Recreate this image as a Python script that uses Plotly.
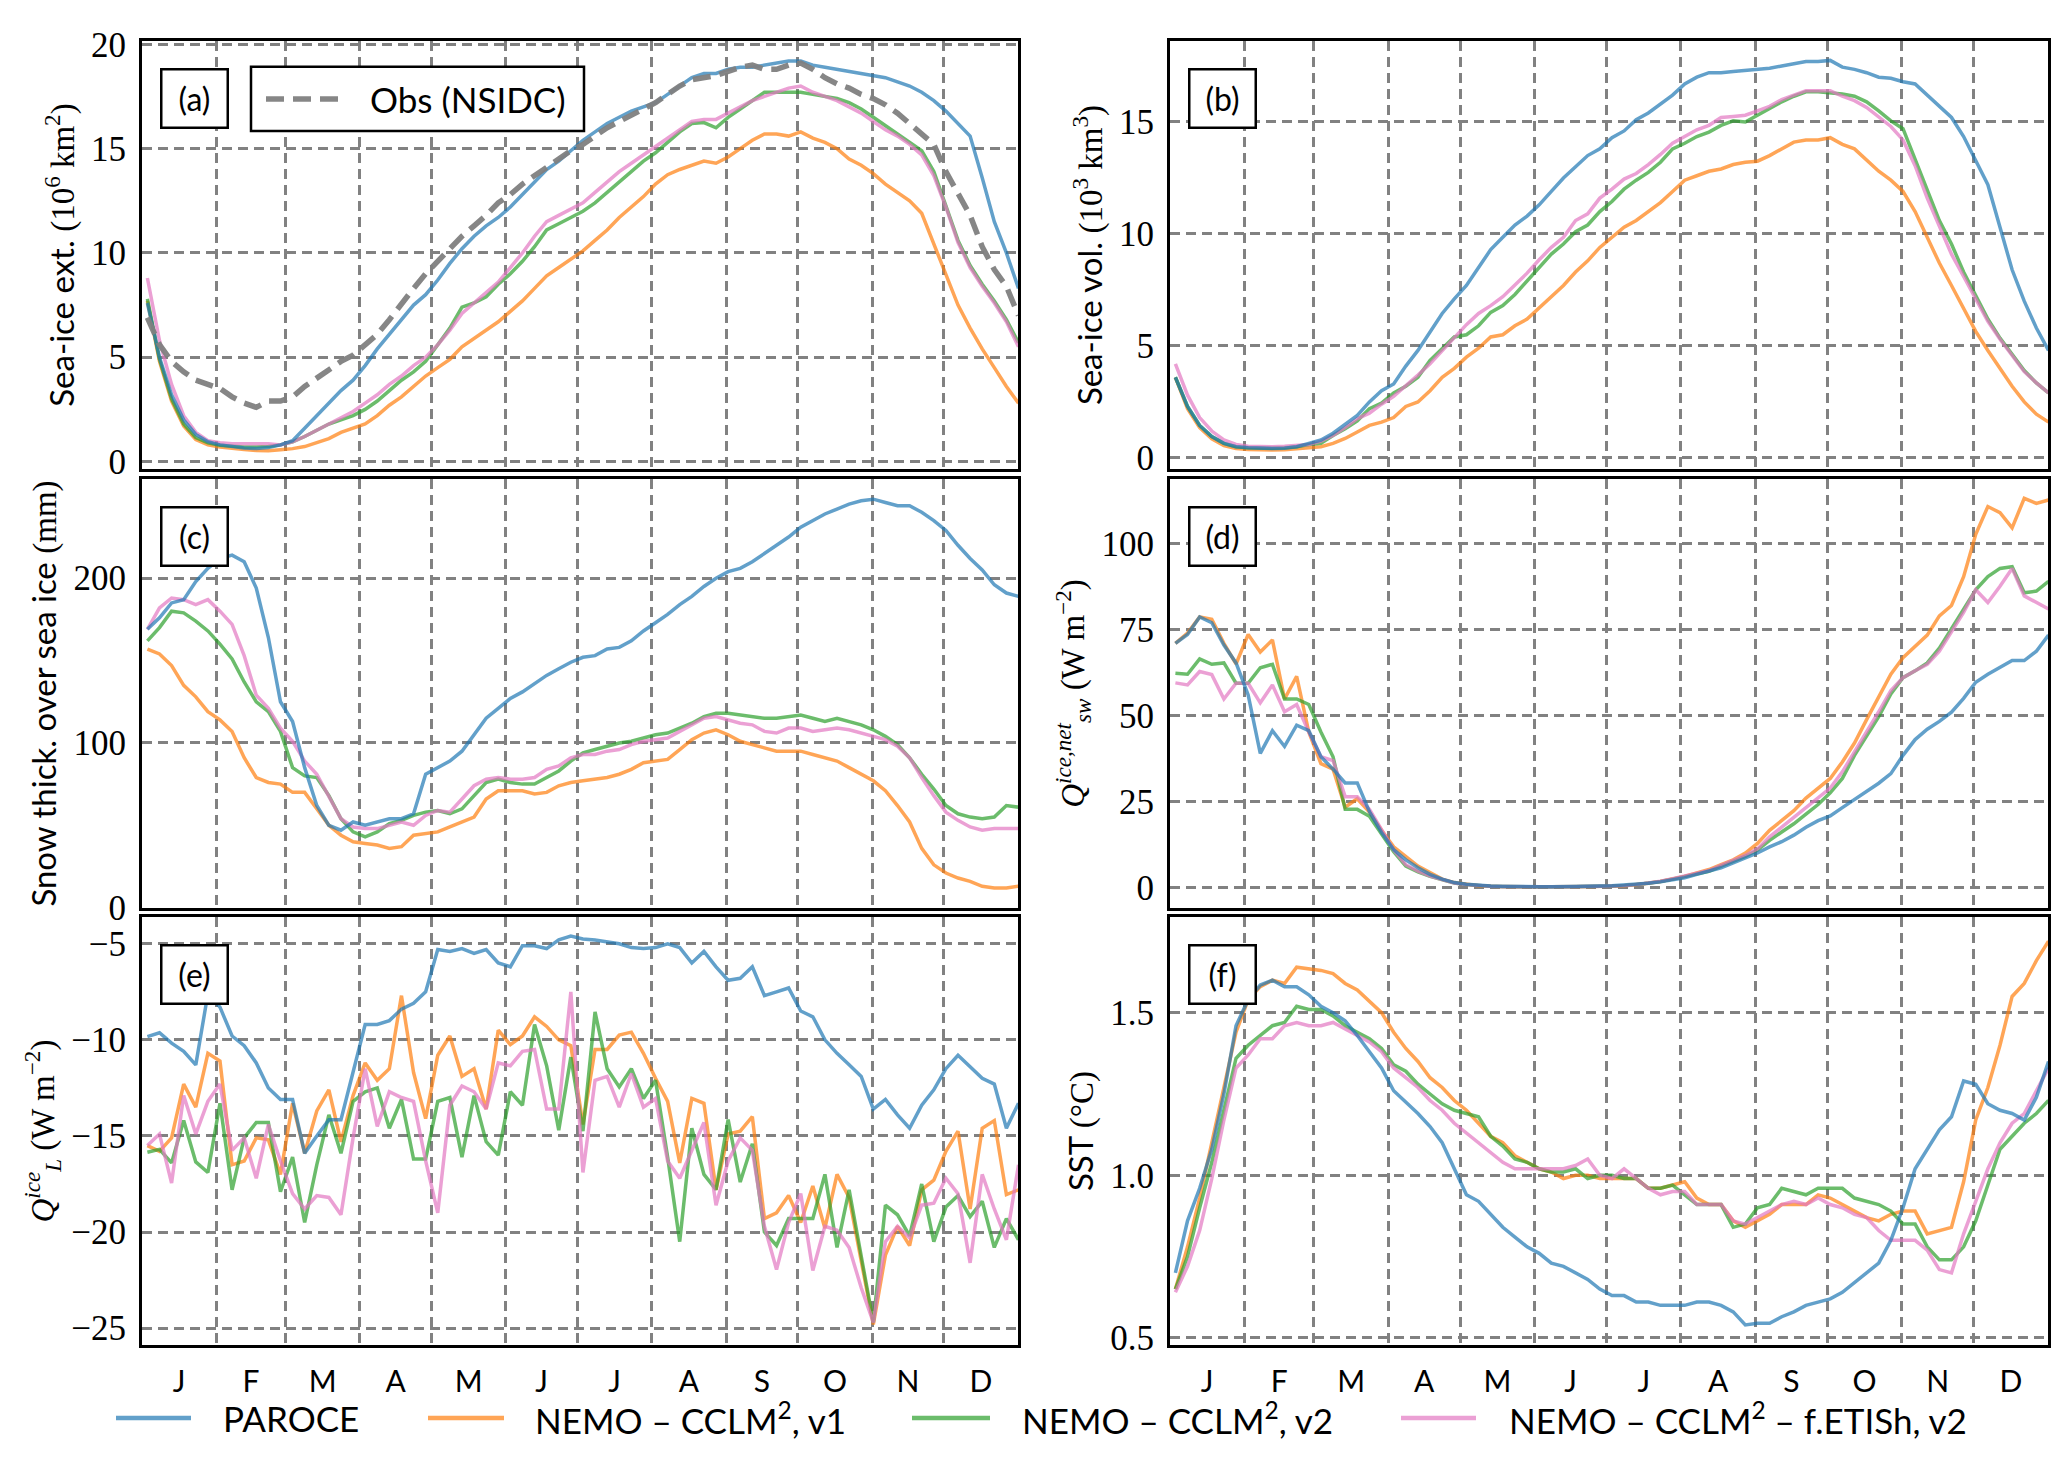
import numpy as np
import plotly.graph_objects as go

W, H = 2067, 1473
SANS = "Lato"
SERIF = "Liberation Serif, Times New Roman, serif"

MONTHS = ["J", "F", "M", "A", "M", "J", "J", "A", "S", "O", "N", "D"]
MONTH_START = [0, 31, 60, 91, 121, 152, 182, 213, 244, 274, 305, 335, 366]
# 5-day means, plotted on a day-of-year axis
DAYS = 2.25 + 5.055 * np.arange(73)

# (a) sea-ice extent, 10^6 km2
EXT_OBS = [6.9, 5.6, 4.8, 4.3, 3.9, 3.7, 3.5, 3.1, 2.8, 2.6, 2.9, 2.9, 3.1, 3.6, 4.0, 4.4, 4.8, 5.1,
           5.6, 6.1, 6.8, 7.6, 8.3, 9.0, 9.6, 10.2, 10.8, 11.3, 11.8, 12.4, 12.8, 13.3, 13.7, 14.1, 14.5, 14.9,
           15.2, 15.6, 16.0, 16.3, 16.6, 16.9, 17.2, 17.6, 18.0, 18.3, 18.4, 18.5, 18.7, 18.9, 19.0, 18.8, 18.8, 19.0,
           19.1, 18.8, 18.4, 18.1, 17.9, 17.6, 17.4, 17.1, 16.7, 16.2, 15.7, 15.2, 13.9, 12.9, 11.8, 10.3, 9.2, 8.4, 7.0]
EXT_PAROCE = [7.6, 5.0, 3.2, 2.0, 1.3, 0.95, 0.8, 0.72, 0.65, 0.63, 0.67, 0.8, 1.0, 1.6, 2.2, 2.8, 3.4, 3.9,
              4.6, 5.4, 6.1, 6.8, 7.5, 8.0, 8.7, 9.5, 10.2, 10.8, 11.3, 11.7, 12.2, 12.8, 13.4, 14.0, 14.4, 14.9,
              15.4, 15.8, 16.2, 16.5, 16.8, 17.0, 17.2, 17.6, 18.0, 18.4, 18.6, 18.6, 18.8, 18.9, 18.9, 19.0, 19.1, 19.2,
              19.2, 19.0, 18.9, 18.8, 18.7, 18.6, 18.5, 18.4, 18.2, 18.0, 17.7, 17.3, 16.8, 16.2, 15.6, 13.6, 11.5, 10.0, 8.3]
EXT_V1 = [7.7, 4.8, 2.9, 1.7, 1.05, 0.8, 0.7, 0.62, 0.58, 0.53, 0.52, 0.57, 0.62, 0.72, 0.9, 1.1, 1.4, 1.6,
          1.8, 2.2, 2.7, 3.1, 3.6, 4.1, 4.5, 4.9, 5.5, 5.9, 6.3, 6.7, 7.2, 7.7, 8.3, 8.9, 9.3, 9.7,
          10.1, 10.6, 11.1, 11.7, 12.2, 12.7, 13.3, 13.75, 14.0, 14.2, 14.4, 14.3, 14.6, 15.0, 15.4, 15.7, 15.7, 15.6,
          15.8, 15.5, 15.3, 15.0, 14.5, 14.2, 13.8, 13.3, 12.9, 12.5, 11.9, 10.4, 8.9, 7.5, 6.4, 5.4, 4.5, 3.6, 2.8]
EXT_V2 = [7.8, 4.9, 3.0, 1.8, 1.15, 0.9, 0.78, 0.72, 0.7, 0.7, 0.72, 0.8, 0.95, 1.2, 1.5, 1.8, 2.0, 2.2,
          2.5, 2.9, 3.4, 3.9, 4.3, 4.8, 5.6, 6.4, 7.4, 7.6, 7.9, 8.5, 9.0, 9.6, 10.3, 11.1, 11.4, 11.7,
          12.0, 12.4, 12.9, 13.4, 13.9, 14.4, 14.8, 15.3, 15.8, 16.2, 16.25, 16.0, 16.5, 16.9, 17.3, 17.7, 17.7, 17.7,
          17.7, 17.6, 17.5, 17.4, 17.2, 16.9, 16.5, 16.1, 15.7, 15.3, 14.9, 13.9, 12.3, 10.6, 9.4, 8.5, 7.7, 6.8, 5.7]
EXT_ETISH = [8.8, 5.8, 3.7, 2.2, 1.4, 1.0, 0.9, 0.85, 0.85, 0.85, 0.85, 0.8, 0.95, 1.2, 1.5, 1.8, 2.1, 2.4,
             2.8, 3.2, 3.7, 4.1, 4.6, 5.0, 5.6, 6.3, 7.1, 7.6, 8.1, 8.6, 9.3, 10.0, 10.8, 11.5, 11.8, 12.1,
             12.4, 12.9, 13.4, 13.9, 14.3, 14.7, 15.1, 15.5, 15.9, 16.3, 16.4, 16.4, 16.7, 17.0, 17.3, 17.5, 17.7, 17.9,
             18.0, 17.7, 17.5, 17.3, 17.0, 16.7, 16.3, 15.9, 15.6, 15.2, 14.7, 13.7, 12.2, 10.5, 9.3, 8.4, 7.6, 6.7, 5.5]

# (b) sea-ice volume, 10^3 km3
VOL_PAROCE = [3.6, 2.3, 1.45, 0.95, 0.65, 0.5, 0.45, 0.43, 0.42, 0.43, 0.5, 0.65, 0.8, 1.1, 1.5, 1.9, 2.5, 3.0,
              3.3, 4.1, 4.8, 5.65, 6.45, 7.1, 7.7, 8.5, 9.3, 9.85, 10.4, 10.8, 11.3, 11.9, 12.5, 13.0, 13.5, 13.8,
              14.3, 14.6, 15.1, 15.4, 15.8, 16.2, 16.7, 17.0, 17.2, 17.2, 17.25, 17.3, 17.35, 17.4, 17.5, 17.6, 17.7, 17.7,
              17.75, 17.45, 17.35, 17.2, 17.0, 16.95, 16.8, 16.7, 16.2, 15.65, 15.2, 14.35, 13.3, 12.2, 10.3, 8.4, 7.0, 5.8, 4.8]
VOL_V1 = [3.6, 2.2, 1.35, 0.85, 0.55, 0.42, 0.38, 0.36, 0.35, 0.36, 0.4, 0.45, 0.5, 0.65, 0.87, 1.16, 1.45, 1.6,
          1.8, 2.3, 2.5, 3.0, 3.6, 4.0, 4.5, 4.9, 5.4, 5.5, 5.9, 6.2, 6.7, 7.25, 7.7, 8.3, 8.8, 9.4,
          9.85, 10.3, 10.6, 11.0, 11.4, 11.9, 12.4, 12.6, 12.8, 12.9, 13.1, 13.2, 13.25, 13.5, 13.8, 14.1, 14.2, 14.2,
          14.3, 14.0, 13.8, 13.3, 12.8, 12.4, 11.9, 11.0, 9.85, 8.7, 7.7, 6.7, 5.65, 4.8, 4.0, 3.2, 2.5, 1.95, 1.6]
VOL_V2 = [3.6, 2.3, 1.45, 0.95, 0.65, 0.5, 0.45, 0.43, 0.43, 0.45, 0.5, 0.6, 0.65, 1.0, 1.3, 1.65, 2.2, 2.45,
          2.9, 3.2, 3.6, 4.35, 4.9, 5.4, 5.5, 5.9, 6.5, 6.8, 7.3, 7.9, 8.55, 9.1, 9.55, 10.1, 10.4, 11.0,
          11.45, 12.0, 12.4, 12.75, 13.2, 13.8, 14.05, 14.35, 14.55, 14.85, 15.05, 15.0, 15.3, 15.6, 15.9, 16.15, 16.35, 16.35,
          16.3, 16.25, 16.15, 15.9, 15.5, 15.05, 14.7, 13.3, 11.9, 10.6, 9.55, 8.3, 7.25, 6.2, 5.35, 4.6, 3.9, 3.35, 2.9]
VOL_ETISH = [4.2, 2.8, 1.8, 1.2, 0.8, 0.6, 0.52, 0.5, 0.5, 0.52, 0.55, 0.6, 0.75, 1.0, 1.35, 1.75, 2.0, 2.4,
             2.75, 3.2, 3.7, 4.2, 4.8, 5.35, 5.95, 6.45, 6.8, 7.2, 7.7, 8.25, 8.85, 9.4, 9.85, 10.6, 10.9, 11.6,
             12.0, 12.45, 12.7, 13.1, 13.55, 14.05, 14.35, 14.65, 14.85, 15.2, 15.25, 15.3, 15.5, 15.7, 16.0, 16.2, 16.4, 16.4,
             16.4, 16.15, 15.95, 15.65, 15.2, 14.8, 14.2, 13.05, 11.6, 10.3, 9.1, 8.1, 7.1, 6.1, 5.3, 4.55, 3.85, 3.35, 2.9]

# (c) snow thickness over sea ice, mm
SNOW_PAROCE = [169, 176, 185, 187, 198, 206, 212, 214, 210, 194, 164, 125, 113, 85, 62, 50, 47, 52,
               50, 52, 54, 54, 57, 81, 85, 89, 95, 105, 115, 121, 127, 131, 136, 141, 145, 149,
               152, 153, 157, 158, 162, 168, 173, 178, 184, 189, 195, 200, 204, 206, 210, 215, 220, 225,
               231, 235, 239, 242, 245, 247, 248, 246, 244, 244, 240, 235, 229, 220, 212, 205, 196, 191, 189]
SNOW_V1 = [157, 154, 147, 135, 128, 119, 114, 107, 91, 79, 76, 75, 70, 70, 60, 50, 44, 40,
           39, 38, 36, 37, 44, 45, 46, 49, 52, 55, 66, 71, 71, 71, 69, 70, 74, 76,
           77, 78, 79, 81, 84, 88, 89, 90, 96, 102, 106, 108, 105, 101, 99, 97, 95, 95,
           95, 93, 91, 89, 85, 81, 77, 71, 62, 52, 36, 26, 21, 18, 16, 13, 12, 12, 13]
SNOW_V2 = [162, 170, 180, 179, 174, 168, 160, 151, 137, 125, 119, 107, 85, 80, 79, 68, 54, 46,
           43, 46, 51, 53, 56, 58, 59, 57, 60, 68, 76, 78, 76, 75, 75, 79, 83, 89,
           94, 96, 98, 100, 101, 103, 105, 106, 109, 112, 116, 118, 118, 117, 116, 115, 115, 116,
           117, 115, 113, 115, 113, 111, 108, 104, 99, 91, 81, 72, 62, 57, 55, 54, 55, 62, 61]
SNOW_ETISH = [169, 182, 188, 187, 184, 187, 180, 172, 153, 129, 121, 109, 101, 89, 81, 68, 54, 49,
              48, 48, 50, 52, 50, 56, 59, 58, 66, 74, 78, 79, 78, 78, 79, 84, 86, 91,
              93, 93, 95, 96, 99, 101, 102, 103, 107, 111, 115, 116, 114, 112, 111, 107, 106, 109,
              109, 107, 108, 109, 108, 106, 104, 102, 98, 91, 79, 68, 58, 53, 49, 47, 48, 48, 48]

# (d) net shortwave over ice, W m-2
QSW_PAROCE = [71, 73.6, 78.7, 77, 70.5, 65.3, 56, 39, 45.6, 41, 47.2, 45.6, 38, 34.4, 30.4, 30.4, 22, 16,
              11, 8, 5.7, 3.8, 2.4, 1.4, 0.9, 0.6, 0.4, 0.3, 0.2, 0.2, 0.2, 0.2, 0.2, 0.25, 0.3, 0.4,
              0.5, 0.7, 0.9, 1.2, 1.6, 2.2, 2.8, 3.8, 4.7, 5.7, 7.1, 8.5, 10, 11.8, 13.3, 15.2, 17.5, 19.4,
              20.8, 23.2, 25.6, 27.9, 30.3, 33.1, 38.4, 43, 46, 48.3, 51, 55, 59.7, 62, 64, 66, 66, 68.7, 73.4]
QSW_V1 = [71, 74, 78.7, 78, 71, 65, 73.6, 68.5, 72, 54.8, 61.4, 45.2, 36, 34.4, 23.3, 25.8, 21.9, 16.6,
          11.8, 9, 6.2, 4.3, 2.4, 1.4, 0.9, 0.5, 0.3, 0.2, 0.15, 0.15, 0.15, 0.15, 0.15, 0.15, 0.2, 0.3,
          0.3, 0.5, 0.8, 1.2, 1.7, 2.4, 3.2, 4.2, 5.2, 6.6, 8.0, 10, 12.8, 16.6, 19.4, 22.3, 26, 28.9,
          31.7, 36.5, 42, 48.8, 55.4, 62, 66.8, 70, 73.4, 79, 82, 90.4, 102.7, 110.8, 109, 104.6, 113.2, 111.7, 112.7]
QSW_V2 = [62.3, 62, 66.5, 64.9, 65.3, 59.4, 59.4, 63.9, 64.9, 54.8, 54.8, 53.2, 45.2, 38, 22.7, 22.7, 20.7, 15.6,
          10.4, 6.2, 4.5, 3.2, 2.2, 1.3, 0.8, 0.5, 0.3, 0.2, 0.15, 0.15, 0.15, 0.15, 0.15, 0.15, 0.2, 0.3,
          0.3, 0.5, 0.8, 1.2, 1.7, 2.4, 3.2, 4.1, 4.7, 6.2, 7.6, 9, 10.9, 13.7, 16.1, 18.5, 21.3, 24.1,
          27.5, 31.7, 38.4, 44, 49.7, 56.3, 61, 63, 65.3, 69.6, 75.3, 81, 86.6, 90.4, 92.8, 93.3, 85.7, 86.2, 89]
QSW_ETISH = [59.5, 58.9, 62.8, 61.9, 54.8, 59.4, 59.4, 53.7, 58.9, 51.1, 53.2, 45.2, 38, 36.9, 26.4, 26.4, 22.7, 16.6,
             10.9, 6.6, 4.7, 3.3, 2.2, 1.3, 0.8, 0.5, 0.3, 0.2, 0.15, 0.15, 0.15, 0.15, 0.15, 0.15, 0.2, 0.3,
             0.3, 0.5, 0.8, 1.2, 1.8, 2.5, 3.3, 4.2, 4.9, 6.4, 7.8, 9.3, 11.2, 14.7, 17.5, 20.4, 23.2, 26,
             28.9, 33.6, 39.3, 45, 51.1, 57.3, 61, 63, 64.9, 68.7, 74.3, 80, 86.6, 82.9, 87.6, 92.8, 84.8, 82.9, 81]

# (e) net longwave over ice, W m-2
QL_PAROCE = [-9.83, -9.63, -10.17, -10.6, -11.3, -7.6, -8.3, -9.8, -10.3, -11.2, -12.5, -13.1, -13.1, -15.9, -15.0, -14.15, -14.15, -11.7,
             -9.2, -9.2, -9.0, -8.4, -8.1, -7.5, -5.3, -5.4, -5.25, -5.5, -5.3, -6.0, -6.2, -5.1, -5.1, -5.25, -4.8, -4.6,
             -4.75, -4.8, -4.9, -5.0, -5.2, -5.25, -5.2, -5.0, -5.2, -6.0, -5.4, -6.2, -6.9, -6.8, -6.2, -7.7, -7.5, -7.3,
             -8.5, -8.8, -10.0, -10.7, -11.3, -11.9, -13.6, -13.1, -13.9, -14.6, -13.4, -12.6, -11.5, -10.8, -11.4, -12.0, -12.3, -14.6, -13.3]
QL_V1 = [-15.5, -15.8, -15.1, -12.3, -13.5, -10.7, -11.1, -16.5, -16.3, -15.1, -15.2, -17.0, -13.3, -15.9, -13.7, -12.6, -15.3, -12.9,
         -11.2, -12.1, -11.5, -7.7, -11.7, -14.1, -10.8, -9.8, -11.9, -11.5, -13.6, -9.5, -10.25, -9.8, -8.8, -9.3, -10.0, -10.3,
         -14.4, -10.5, -10.5, -9.75, -9.6, -10.7, -12.0, -13.2, -16.4, -13.05, -13.3, -17.8, -14.9, -14.75, -14.0, -19.3, -19.0, -18.1,
         -19.5, -17.6, -19.8, -17.0, -18.2, -21.4, -24.8, -21.2, -19.7, -20.7, -17.8, -17.3, -15.8, -14.75, -18.8, -14.6, -14.2, -18.05, -17.8]
QL_V2 = [-15.85, -15.7, -16.4, -14.2, -16.35, -16.9, -13.3, -17.8, -15.1, -14.3, -14.3, -17.9, -16.1, -19.5, -16.5, -13.9, -15.9, -13.2,
         -12.7, -12.5, -14.6, -13.1, -16.2, -16.2, -13.2, -13.0, -16.1, -12.9, -15.3, -16.0, -12.7, -13.4, -9.2, -11.35, -14.7, -10.9,
         -14.75, -8.55, -11.5, -12.45, -11.5, -13.05, -12.1, -16.1, -20.5, -14.6, -17.0, -17.8, -14.15, -17.4, -15.4, -20.0, -20.7, -19.3,
         -19.3, -19.3, -17.0, -20.8, -17.8, -21.2, -24.7, -18.6, -19.1, -20.2, -17.5, -20.5, -18.7, -18.1, -19.2, -18.4, -20.8, -19.3, -20.4]
QL_ETISH = [-15.5, -14.9, -17.45, -12.9, -14.9, -13.2, -12.3, -15.75, -15.1, -17.2, -14.4, -16.3, -18.0, -18.8, -18.1, -18.2, -19.1, -15.1,
            -11.5, -14.5, -12.7, -13.0, -13.2, -16.3, -19.0, -13.4, -12.4, -12.7, -13.6, -11.2, -11.35, -10.6, -10.5, -13.6, -13.6, -7.5,
            -16.9, -12.1, -11.9, -13.5, -11.75, -13.5, -13.05, -16.3, -17.2, -15.75, -14.3, -18.6, -16.3, -15.1, -15.75, -19.7, -21.95, -19.5,
            -18.0, -22.0, -19.7, -19.9, -20.8, -22.9, -24.7, -20.5, -19.7, -20.3, -18.6, -18.5, -17.2, -18.0, -21.6, -17.0, -18.8, -20.4, -16.5]

# (f) sea surface temperature, degC
SST_PAROCE = [0.70, 0.86, 0.96, 1.08, 1.25, 1.46, 1.54, 1.585, 1.60, 1.58, 1.58, 1.555, 1.52, 1.50, 1.475, 1.43, 1.38, 1.33,
              1.26, 1.225, 1.19, 1.15, 1.10, 1.02, 0.94, 0.92, 0.88, 0.84, 0.81, 0.78, 0.76, 0.73, 0.72, 0.70, 0.68, 0.65,
              0.63, 0.63, 0.61, 0.61, 0.60, 0.60, 0.60, 0.61, 0.61, 0.60, 0.58, 0.54, 0.545, 0.545, 0.565, 0.58, 0.60, 0.61,
              0.62, 0.64, 0.67, 0.70, 0.73, 0.80, 0.90, 1.02, 1.08, 1.14, 1.18, 1.29, 1.28, 1.22, 1.20, 1.19, 1.17, 1.24, 1.35]
SST_V1 = [0.65, 0.78, 0.93, 1.10, 1.26, 1.44, 1.54, 1.58, 1.60, 1.59, 1.64, 1.635, 1.63, 1.62, 1.59, 1.57, 1.535, 1.50,
          1.44, 1.39, 1.35, 1.30, 1.27, 1.23, 1.20, 1.16, 1.12, 1.10, 1.06, 1.04, 1.02, 1.01, 0.99, 1.00, 1.00, 0.99,
          0.99, 0.99, 0.99, 0.96, 0.96, 0.97, 0.98, 0.93, 0.91, 0.91, 0.86, 0.84, 0.86, 0.88, 0.91, 0.91, 0.91, 0.94,
          0.93, 0.91, 0.89, 0.87, 0.86, 0.88, 0.89, 0.89, 0.82, 0.83, 0.84, 0.98, 1.17, 1.27, 1.40, 1.55, 1.59, 1.66, 1.72]
SST_V2 = [0.65, 0.75, 0.90, 1.04, 1.20, 1.36, 1.40, 1.43, 1.46, 1.47, 1.52, 1.51, 1.51, 1.49, 1.46, 1.44, 1.42, 1.39,
          1.34, 1.32, 1.28, 1.25, 1.22, 1.20, 1.19, 1.18, 1.12, 1.09, 1.05, 1.04, 1.02, 1.01, 1.01, 1.02, 0.99, 1.00,
          1.00, 0.99, 0.99, 0.96, 0.96, 0.97, 0.94, 0.91, 0.91, 0.91, 0.84, 0.85, 0.90, 0.91, 0.96, 0.95, 0.94, 0.96,
          0.96, 0.96, 0.93, 0.92, 0.91, 0.89, 0.85, 0.85, 0.78, 0.74, 0.74, 0.78, 0.86, 0.97, 1.08, 1.12, 1.16, 1.19, 1.23]
SST_ETISH = [0.64, 0.72, 0.83, 0.99, 1.17, 1.33, 1.37, 1.42, 1.42, 1.46, 1.47, 1.46, 1.46, 1.47, 1.45, 1.43, 1.41, 1.38,
             1.33, 1.30, 1.27, 1.23, 1.20, 1.16, 1.13, 1.10, 1.07, 1.04, 1.02, 1.02, 1.02, 1.02, 1.02, 1.03, 1.05, 1.00,
             0.99, 1.02, 0.99, 0.96, 0.94, 0.95, 0.95, 0.91, 0.91, 0.91, 0.86, 0.85, 0.87, 0.89, 0.91, 0.92, 0.91, 0.93,
             0.91, 0.90, 0.88, 0.87, 0.83, 0.80, 0.80, 0.80, 0.77, 0.71, 0.70, 0.82, 0.92, 1.02, 1.10, 1.16, 1.19, 1.26, 1.33]

NAMES = ["PAROCE", "NEMO – CCLM<sup>2</sup>, v1", "NEMO – CCLM<sup>2</sup>, v2",
         "NEMO – CCLM<sup>2</sup> – f.ETISh, v2"]
COLORS = ["rgba(31,119,180,0.7)", "rgba(255,127,14,0.7)", "rgba(44,160,44,0.7)", "rgba(227,119,194,0.7)"]
OBS_COLOR = "rgba(128,128,128,0.95)"
GRID = "#818181"


def serif(t):
    return f"<span style='font-family:Liberation Serif'>{t}</span>"


# label, series (PAROCE, v1, v2, ETISh), y range, y ticks, tick text, y title
PANELS = [
    ("(a)", [EXT_PAROCE, EXT_V1, EXT_V2, EXT_ETISH], [-0.34, 20.14], [0, 5, 10, 15, 20], None,
     "Sea-ice ext. " + serif("(10<sup>6</sup> km<sup>2</sup>)")),
    ("(b)", [VOL_PAROCE, VOL_V1, VOL_V2, VOL_ETISH], [-0.48, 18.6], [0, 5, 10, 15], None,
     "Sea-ice vol. " + serif("(10<sup>3</sup> km<sup>3</sup>)")),
    ("(c)", [SNOW_PAROCE, SNOW_V1, SNOW_V2, SNOW_ETISH], [0, 260], [0, 100, 200], None,
     "Snow thick. over sea ice " + serif("(mm)")),
    ("(d)", [QSW_PAROCE, QSW_V1, QSW_V2, QSW_ETISH], [-5.9, 118.7], [0, 25, 50, 75, 100], None,
     serif("<i>Q</i><sup><i>ice,net</i></sup><sub><i>sw</i></sub> (W m<sup>−2</sup>)")),
    ("(e)", [QL_PAROCE, QL_V1, QL_V2, QL_ETISH], [-25.86, -3.63], [-25, -20, -15, -10, -5], None,
     serif("<i>Q</i><sup><i>ice</i></sup><sub><i>L</i></sub> (W m<sup>−2</sup>)")),
    ("(f)", [SST_PAROCE, SST_V1, SST_V2, SST_ETISH], [0.479, 1.793], [0.5, 1.0, 1.5], ["0.5", "1.0", "1.5"],
     "SST " + serif("(°C)")),
]

# panel boxes in pixels
COLS = [(142, 1018), (1170, 2048)]
ROWS = [(26, 464), (475, 914), (924, 1362)]


def fx(px):
    return px / W


def fy(px):
    return 1 - px / H


fig = go.Figure()
layout = {}
mid_month = [(a + b) / 2 for a, b in zip(MONTH_START[:-1], MONTH_START[1:])]

for k, (label, series, yr, ytv, ytt, ytitle) in enumerate(PANELS):
    r, c = divmod(k, 2)
    n = "" if k == 0 else str(k + 1)
    (l, rr), (t, b) = COLS[c], ROWS[r]
    bottom = r == 2

    # draw order: v1, v2, ETISh, then PAROCE on top
    for j in [1, 2, 3, 0]:
        y = series[j]
        fig.add_trace(go.Scatter(x=DAYS[:len(y)], y=y, mode="lines", name=NAMES[j],
                                 line=dict(color=COLORS[j], width=3.5),
                                 xaxis="x" + n, yaxis="y" + n, showlegend=False))
    if k == 0:
        fig.add_trace(go.Scatter(x=DAYS[:len(EXT_OBS)], y=EXT_OBS, mode="lines", name="Obs (NSIDC)",
                                 line=dict(color=OBS_COLOR, width=5.5, dash="18px,9px"),
                                 xaxis="x", yaxis="y", showlegend=False))

    layout["xaxis" + n] = dict(
        domain=[fx(l), fx(rr)], anchor="y" + n, range=[0, 366],
        tickmode="array", tickvals=mid_month, ticktext=MONTHS, showticklabels=bottom,
        showgrid=False, ticks="", zeroline=False, ticklabelstandoff=8,
        showline=True, mirror=True, linecolor="black", linewidth=3,
        tickfont=dict(family=SANS, size=30, color="black"),
        minor=dict(tickmode="array", tickvals=MONTH_START[1:-1], showgrid=True,
                   gridcolor=GRID, gridwidth=2.6, griddash="10px,6px", ticks=""),
    )
    layout["yaxis" + n] = dict(
        domain=[fy(b), fy(t)], anchor="x" + n, range=yr,
        tickmode="array", tickvals=ytv, ticktext=ytt,
        showgrid=True, gridcolor=GRID, gridwidth=2.6, griddash="10px,6px",
        ticks="", zeroline=False, ticklabelstandoff=6,
        showline=True, mirror=True, linecolor="black", linewidth=3,
        tickfont=dict(family=SERIF, size=35, color="black"),
        title=dict(text=ytitle, font=dict(family=SANS, size=33, color="black"), standoff=7),
    )

annotations = []
for k, (label, *_rest) in enumerate(PANELS):
    r, c = divmod(k, 2)
    annotations.append(dict(
        text=label, xref="paper", yref="paper", x=fx(COLS[c][0] + 18), y=fy(ROWS[r][0] + 27),
        xanchor="left", yanchor="top", showarrow=False, width=64, height=56, borderpad=0,
        bordercolor="black", borderwidth=2.5, bgcolor="white",
        font=dict(family=SANS, size=32, color="black")))

shapes = []
# Obs legend box inside panel (a)
shapes.append(dict(type="rect", xref="paper", yref="paper", x0=fx(251), x1=fx(584), y0=fy(118), y1=fy(52),
                   line=dict(color="black", width=2.5), fillcolor="white", layer="above"))
shapes.append(dict(type="line", xref="paper", yref="paper", x0=fx(266), x1=fx(338), y0=fy(85), y1=fy(85),
                   line=dict(color=OBS_COLOR, width=5.5, dash="18px,9px"), layer="above"))
annotations.append(dict(text="Obs (NSIDC)", xref="paper", yref="paper", x=fx(368), y=fy(85),
                        xanchor="left", yanchor="middle", showarrow=False,
                        font=dict(family=SANS, size=35, color="black")))

# bottom legend
LEG_LINE = [(116, 191), (428, 504), (912, 990), (1401, 1476)]
LEG_TEXT = [221, 533, 1020, 1507]
for j in range(4):
    x0, x1 = LEG_LINE[j]
    shapes.append(dict(type="line", xref="paper", yref="paper", x0=fx(x0), x1=fx(x1), y0=fy(1437), y1=fy(1437),
                       line=dict(color=COLORS[j], width=4.5)))
    annotations.append(dict(text=NAMES[j], xref="paper", yref="paper", x=fx(LEG_TEXT[j]), y=fy(1437),
                            xanchor="left", yanchor="middle", showarrow=False,
                            font=dict(family=SANS, size=35, color="black")))

fig.update_layout(
    width=W, height=H, margin=dict(l=0, r=0, t=0, b=0),
    paper_bgcolor="white", plot_bgcolor="white", showlegend=False,
    annotations=annotations, shapes=shapes, **layout)

# page body has a default margin; drop it so the figure sits at the window origin
fig.write_html("out.html", config={"displayModeBar": False},
               post_script="document.body.style.margin='0';")
